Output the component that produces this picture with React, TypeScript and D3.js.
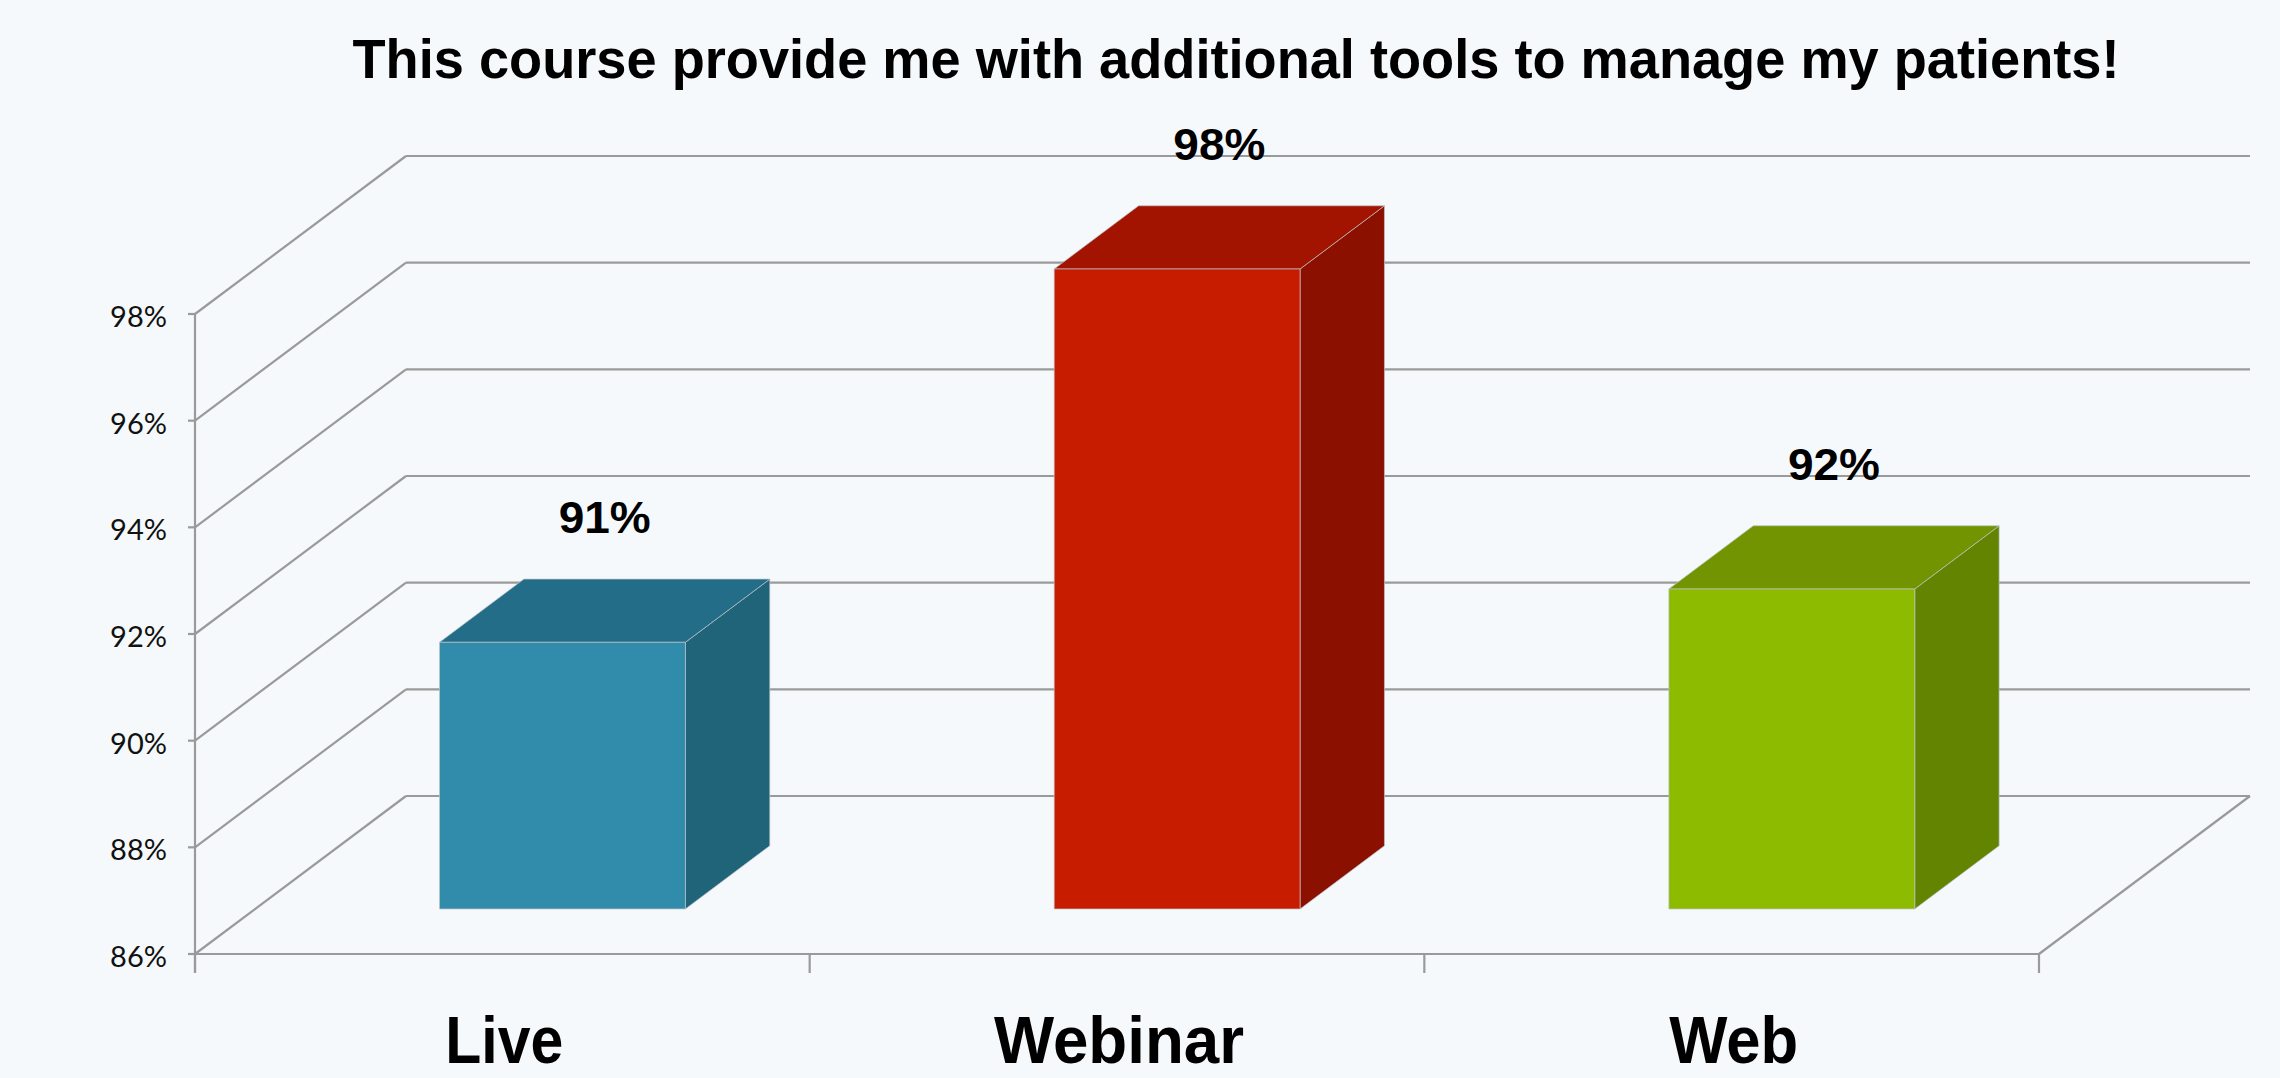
import React from "react";
import * as d3 from "d3";

const title = "This course provide me with additional tools to manage my patients!";
const categories = ["Live", "Webinar", "Web"];
const values = [91, 98, 92];
const valueLabels = ["91%", "98%", "92%"];
const yTicks = [86, 88, 90, 92, 94, 96, 98];
const yTickLabels = ["86%", "88%", "90%", "92%", "94%", "96%", "98%"];
const frontColors = ["#318bab", "#c81c00", "#8dbb00"];
const topColors = ["#236d89", "#a31400", "#729400"];
const sideColors = ["#20647a", "#8b1000", "#628400"];

const W = 2280;
const H = 1078;
const DX = 211;
const DY = -158;
const D0 = 0.285;
const D1 = 0.685;
const GRID = "#9a9a9a";

export default function App() {
  const x = d3.scaleBand<string>().domain(categories).range([195, 2039]).paddingInner(0.6).paddingOuter(0.3);
  const y = d3.scaleLinear().domain([86, 98]).range([954, 314]);
  const bw = x.bandwidth();
  const step = x.step();
  const left = 195;
  const right = 2039;
  const p = (px: number, py: number, d: number) => [px + d * DX, py + d * DY];
  const poly = (pts: number[][]) => pts.map((q) => q.join(",")).join(" ");
  const base = y(86);
  const boundaries = d3.range(categories.length + 1).map((i) => left + i * step);
  const labelLengths = [118, 250, 129];

  return (
    <div style={{ position: "absolute", left: 0, top: 0 }}>
      <svg width={W} height={H} style={{ display: "block" }}>
        <rect width={W} height={H} fill="#f5f9fb" />
        <text x={1236} y={78} textAnchor="middle" fontFamily="Liberation Sans, Arial, sans-serif" fontWeight="bold" fontSize={56} textLength={1767} lengthAdjust="spacingAndGlyphs" fill="#000">{title}</text>
        {yTicks.map((t) => {
          const a = p(left, y(t), 1);
          return <line key={"bw" + t} x1={a[0]} y1={a[1]} x2={right + DX} y2={a[1]} stroke={GRID} strokeWidth={2.2} />;
        })}
        {yTicks.map((t) => {
          const a = p(left, y(t), 0);
          const b = p(left, y(t), 1);
          return <line key={"lw" + t} x1={a[0]} y1={a[1]} x2={b[0]} y2={b[1]} stroke={GRID} strokeWidth={2.2} />;
        })}
        <line x1={left} y1={base} x2={right} y2={base} stroke={GRID} strokeWidth={2.2} />
        <line x1={right} y1={base} x2={right + DX} y2={base + DY} stroke={GRID} strokeWidth={2.2} />
        <line x1={left} y1={y(98)} x2={left} y2={973} stroke={GRID} strokeWidth={2.2} />
        {yTicks.map((t, i) => (
          <g key={"yt" + t}>
            <line x1={188} y1={y(t)} x2={left} y2={y(t)} stroke={GRID} strokeWidth={2.2} />
            <text x={167} y={y(t) + 13} textAnchor="end" fontFamily="Lato, Open Sans, sans-serif" fontSize={29} fill="#111">{yTickLabels[i]}</text>
          </g>
        ))}
        {boundaries.map((bx, i) => (
          <line key={"xt" + i} x1={bx} y1={base} x2={bx} y2={973} stroke={GRID} strokeWidth={2.2} />
        ))}
        {categories.map((c, i) => {
          const x0 = x(c)!;
          const x1 = x0 + bw;
          const yv = y(values[i]);
          const f = [p(x0, base, D0), p(x1, base, D0), p(x1, yv, D0), p(x0, yv, D0)];
          const top = [p(x0, yv, D0), p(x1, yv, D0), p(x1, yv, D1), p(x0, yv, D1)];
          const side = [p(x1, base, D0), p(x1, yv, D0), p(x1, yv, D1), p(x1, base, D1)];
          return (
            <g key={c} stroke="rgba(190,195,200,0.7)" strokeWidth={1}>
              <polygon points={poly(side)} fill={sideColors[i]} />
              <polygon points={poly(top)} fill={topColors[i]} />
              <polygon points={poly(f)} fill={frontColors[i]} />
            </g>
          );
        })}
        {categories.map((c, i) => (
          <text key={"vl" + c} x={x(c)! + bw / 2 + ((D0 + D1) / 2) * DX} y={y(values[i]) + DY + 4} textAnchor="middle" fontFamily="Liberation Sans, Arial, sans-serif" fontWeight="bold" fontSize={44} textLength={92} lengthAdjust="spacingAndGlyphs" fill="#000">{valueLabels[i]}</text>
        ))}
        {categories.map((c, i) => (
          <text key={"cl" + c} x={x(c)! + bw / 2 + 2} y={1063} textAnchor="middle" fontFamily="Liberation Sans, Arial, sans-serif" fontWeight="bold" fontSize={66} textLength={labelLengths[i]} lengthAdjust="spacingAndGlyphs" fill="#000">{c}</text>
        ))}
      </svg>
    </div>
  );
}
